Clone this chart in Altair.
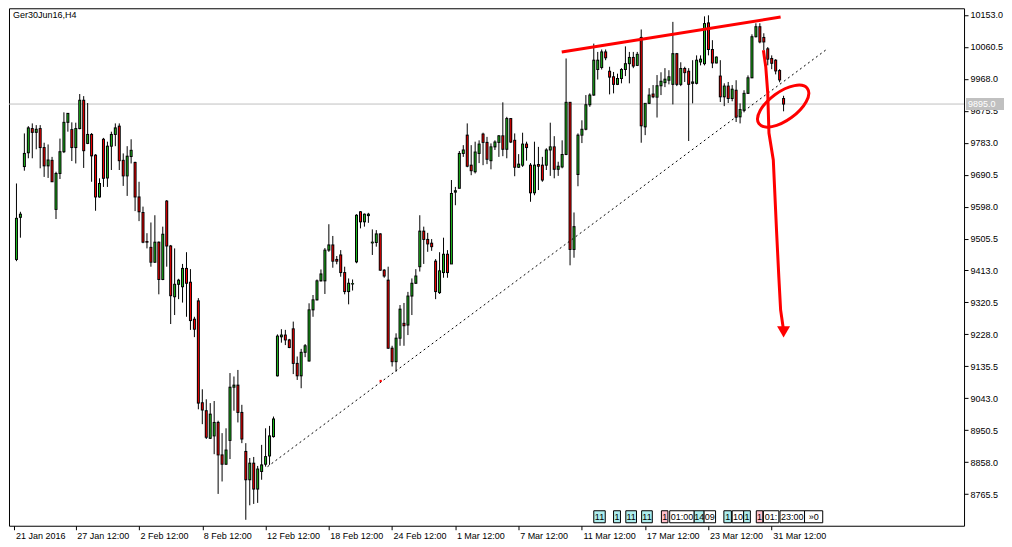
import altair as alt
import pandas as pd

# ---------------- candle data (H4 bars) ----------------
OPEN = [
    9445, 9567, 9714, 9754, 9824, 9813, 9824, 9769, 9716, 9732,
    9590, 9694, 9757, 9842, 9821, 9769, 9824, 9906, 9781, 9807,
    9747, 9626, 9793, 9681, 9773, 9807, 9831, 9732, 9687, 9743,
    9726, 9626, 9581, 9497, 9480, 9437, 9495, 9387, 9614, 9484,
    9337, 9373, 9366, 9419, 9379, 9272, 9325, 9030, 9007, 8927,
    8934, 8973, 8879, 8852, 8921, 9075, 9081, 9002, 8889, 8807,
    8855, 8780, 8831, 8852, 8876, 8932, 9108, 9221, 9226, 9212,
    9244, 9144, 9108, 9176, 9151, 9299, 9328, 9383, 9383, 9472,
    9487, 9445, 9458, 9407, 9352, 9374, 9438, 9583, 9554, 9572,
    9493, 9494, 9519, 9414, 9385, 9188, 9149, 9217, 9260, 9255,
    9339, 9376, 9424, 9527, 9503, 9492, 9440, 9349, 9407, 9460,
    9432, 9640, 9651, 9752, 9805, 9718, 9699, 9752, 9808, 9784,
    9731, 9771, 9784, 9803, 9764, 9853, 9790, 9712, 9718, 9779,
    9718, 9638, 9720, 9718, 9718, 9762, 9771, 9706, 9713, 9749,
    9900, 9474, 9691, 9805, 9822, 9893, 9921, 9995, 10001, 10046,
    9990, 9974, 9952, 9969, 9995, 10012, 10030, 10007, 10088, 9829,
    9897, 9924, 9915, 9948, 9957, 9964, 9952, 10041, 9952, 9998,
    9990, 9955, 9955, 10017, 10012, 10130, 10053, 10014, 9976, 9916,
    9947, 9911, 9935, 9858, 9877, 9926, 9971, 10090, 10119, 10088,
    10055, 10027, 10022, 9992, 9911,
]
HIGH = [
    9665, 9583, 9810, 9831, 9839, 9834, 9834, 9783, 9778, 9742,
    9699, 9795, 9871, 9869, 9842, 9841, 9924, 9918, 9898, 9811,
    9750, 9680, 9797, 9786, 9815, 9839, 9839, 9752, 9773, 9793,
    9728, 9670, 9598, 9521, 9552, 9573, 9497, 9540, 9617, 9487,
    9477, 9389, 9432, 9466, 9417, 9279, 9333, 9069, 9040, 9029,
    9035, 8978, 8942, 8956, 9116, 9106, 9125, 9024, 8913, 8870,
    8873, 8847, 8908, 8956, 8963, 8990, 9228, 9243, 9241, 9215,
    9265, 9164, 9186, 9200, 9318, 9342, 9387, 9416, 9478, 9547,
    9513, 9455, 9472, 9424, 9390, 9387, 9576, 9585, 9578, 9580,
    9532, 9530, 9521, 9417, 9424, 9195, 9231, 9313, 9319, 9351,
    9390, 9417, 9573, 9540, 9522, 9504, 9446, 9466, 9508, 9472,
    9675, 9655, 9759, 9776, 9839, 9776, 9786, 9790, 9812, 9800,
    9781, 9790, 9805, 9900, 9858, 9854, 9810, 9750, 9812, 9786,
    9724, 9786, 9771, 9742, 9767, 9841, 9802, 9728, 9790, 10027,
    9901, 9581, 9810, 9848, 9921, 9926, 10070, 10046, 10053, 10053,
    10003, 9988, 9983, 9999, 10062, 10046, 10046, 10046, 10111, 9898,
    9941, 9950, 9979, 9987, 9999, 9993, 10133, 10043, 10016, 10003,
    9999, 10022, 10036, 10036, 10149, 10152, 10080, 10033, 10022, 9955,
    9959, 9950, 9964, 9897, 9935, 9978, 10097, 10129, 10129, 10100,
    10060, 10036, 10025, 9996, 9919,
]
LOW = [
    9440, 9508, 9702, 9738, 9738, 9764, 9709, 9684, 9681, 9670,
    9562, 9678, 9753, 9815, 9730, 9723, 9822, 9710, 9779, 9670,
    9586, 9624, 9655, 9655, 9704, 9773, 9704, 9658, 9629, 9723,
    9585, 9556, 9492, 9477, 9424, 9435, 9344, 9385, 9424, 9258,
    9284, 9330, 9320, 9279, 9241, 9220, 9011, 8968, 8925, 8925,
    8881, 8766, 8802, 8850, 8867, 9007, 8973, 8913, 8691, 8733,
    8737, 8740, 8807, 8845, 8850, 8929, 9106, 9204, 9197, 9188,
    9113, 9096, 9072, 9162, 9149, 9279, 9326, 9381, 9345, 9467,
    9421, 9431, 9395, 9344, 9315, 9355, 9434, 9535, 9540, 9551,
    9458, 9482, 9412, 9392, 9186, 9135, 9120, 9195, 9195, 9226,
    9284, 9374, 9410, 9432, 9467, 9470, 9330, 9345, 9392, 9392,
    9432, 9602, 9651, 9742, 9712, 9689, 9694, 9724, 9718, 9721,
    9706, 9762, 9742, 9744, 9738, 9782, 9686, 9710, 9713, 9731,
    9612, 9631, 9646, 9670, 9704, 9687, 9680, 9687, 9709, 9747,
    9428, 9450, 9657, 9782, 9819, 9887, 9919, 9966, 9995, 10022,
    9923, 9926, 9950, 9955, 9976, 9955, 9999, 10005, 9783, 9805,
    9895, 9912, 9856, 9921, 9944, 9952, 9894, 9947, 9947, 9959,
    9788, 9897, 9952, 10007, 10007, 10036, 9999, 10013, 9901, 9889,
    9898, 9903, 9843, 9839, 9871, 9924, 9970, 10088, 10071, 10051,
    10007, 9996, 9981, 9958, 9874,
]
CLOSE = [
    9564, 9576, 9752, 9826, 9813, 9822, 9769, 9716, 9733, 9670,
    9694, 9757, 9842, 9868, 9769, 9824, 9906, 9760, 9807, 9745,
    9626, 9665, 9680, 9773, 9807, 9826, 9731, 9687, 9744, 9761,
    9626, 9583, 9495, 9495, 9437, 9495, 9387, 9518, 9484, 9340,
    9373, 9385, 9419, 9376, 9268, 9243, 9029, 9009, 8930, 8997,
    8973, 8879, 8852, 8893, 9075, 9081, 9002, 8925, 8807, 8855,
    8780, 8838, 8850, 8874, 8934, 8983, 9223, 9226, 9212, 9190,
    9144, 9108, 9176, 9195, 9299, 9328, 9383, 9403, 9472, 9487,
    9440, 9440, 9407, 9352, 9376, 9375, 9573, 9554, 9576, 9576,
    9495, 9519, 9414, 9397, 9188, 9149, 9217, 9301, 9253, 9339,
    9376, 9397, 9527, 9503, 9490, 9482, 9352, 9412, 9460, 9407,
    9636, 9644, 9752, 9762, 9715, 9702, 9756, 9779, 9784, 9735,
    9771, 9785, 9803, 9764, 9853, 9785, 9712, 9721, 9779, 9769,
    9638, 9718, 9715, 9675, 9762, 9771, 9706, 9715, 9749, 9900,
    9474, 9540, 9805, 9822, 9893, 9921, 10022, 10022, 10046, 10029,
    9973, 9952, 9969, 9995, 10012, 10030, 10005, 10039, 9832, 9897,
    9921, 9916, 9948, 9961, 9967, 9974, 10041, 9952, 9998, 9986,
    9952, 9959, 10022, 10025, 10128, 10053, 10014, 10031, 9916, 9947,
    9911, 9938, 9857, 9879, 9926, 9971, 10090, 10119, 10075, 10075,
    10025, 10013, 9991, 9965, 9895,
]

# ---------------- axes ----------------
X_TICK_IDX = [-0.5, 15, 31, 47, 63, 79, 95, 111, 127, 143, 159, 175, 191]
X_TICK_LABELS = ["21 Jan 2016", "27 Jan 12:00", "2 Feb 12:00", "8 Feb 12:00",
                 "12 Feb 12:00", "18 Feb 12:00", "24 Feb 12:00", "1 Mar 12:00",
                 "7 Mar 12:00", "11 Mar 12:00", "17 Mar 12:00", "23 Mar 12:00",
                 "31 Mar 12:00"]
Y_TICKS = [10153.0, 10060.5, 9968.0, 9875.5, 9783.0, 9690.5, 9598.0, 9505.5,
           9413.0, 9320.5, 9228.0, 9135.5, 9043.0, 8950.5, 8858.0, 8765.5]
X_DOMAIN = [-0.625, 238.375]
Y_DOMAIN = [8673.8, 10172.4]
CURRENT_PRICE = 9895.0
SYMBOL_TITLE = "Ger30Jun16,H4"

# ---------------- drawn objects ----------------
RESIST_IDX = [137.9, 193.25]
RESIST_PRICE = [10046, 10147]
SUPPORT_IDX = [63.5, 205.2]
SUPPORT_PRICE = [8845, 10056]
ANCHOR_IDX = [92.1]
ANCHOR_PRICE = [9093]
ARROW_IDX = [188.9, 189.5, 190.0, 190.3, 191.4, 192.25, 192.8, 193.25, 193.9]
ARROW_PRICE = [10051, 10002, 9926, 9811, 9733, 9521, 9394, 9299, 9247]
ARROW_HEAD_IDX = [194.0]
ARROW_HEAD_PRICE = [9235]
ELLIPSE_IDX = [193.9]
ELLIPSE_PRICE = [9889]

# calendar event flags along the bottom
EVENT_START = [146.0, 151.0, 154.1, 158.1, 163.1, 165.2, 171.4, 173.9, 178.9,
               181.0, 183.9, 187.1, 188.9, 193.1, 199.3]
EVENT_END = [148.9, 152.75, 156.8, 160.8, 164.75, 171.4, 173.9, 176.8, 180.8,
             183.9, 185.6, 188.75, 192.8, 199.3, 203.9]
EVENT_TEXT = ["11", "1", "11", "11", "1", "01:00", "14", "09", "1", "10", "1",
              "1", "01:", "23:00", "»0"]
EVENT_KIND = ["cyan", "cyan", "cyan", "cyan", "pink", "white", "cyan", "white",
              "cyan", "white", "cyan", "pink", "white", "white", "white"]

GREEN = "#1ebc1e"
RED = "#ff0000"
FONT = "Liberation Sans"
W, H = 956, 518

# ---------------- tables ----------------
candles = pd.DataFrame({"k": list(range(len(OPEN))), "open": OPEN, "high": HIGH,
                        "low": LOW, "close": CLOSE})
candles["dir"] = ["up" if c >= o else "down" for o, c in zip(OPEN, CLOSE)]
ups = candles[candles["dir"] == "up"]
downs = candles[candles["dir"] == "down"]

resist = pd.DataFrame({"k": RESIST_IDX, "price": RESIST_PRICE})
support = pd.DataFrame({"k": SUPPORT_IDX, "price": SUPPORT_PRICE})
anchor = pd.DataFrame({"k": ANCHOR_IDX, "price": ANCHOR_PRICE})
arrow = pd.DataFrame({"k": ARROW_IDX, "price": ARROW_PRICE,
                      "o": list(range(len(ARROW_IDX)))})
head = pd.DataFrame({"k": ARROW_HEAD_IDX, "price": ARROW_HEAD_PRICE})
ellipse = pd.DataFrame({"k": ELLIPSE_IDX, "price": ELLIPSE_PRICE})
events = pd.DataFrame({"k": EVENT_START, "k2": EVENT_END, "txt": EVENT_TEXT,
                       "kind": EVENT_KIND})
events["mid"] = (events["k"] + events["k2"]) / 2
cur = pd.DataFrame({"price": [CURRENT_PRICE], "label": [f"{CURRENT_PRICE:.1f}"]})
ttl = pd.DataFrame({"t": [SYMBOL_TITLE]})

label_expr = " : ".join(f"datum.value == {v} ? '{t}'"
                        for v, t in zip(X_TICK_IDX, X_TICK_LABELS)) + " : ''"

xscale = alt.Scale(domain=X_DOMAIN, nice=False, zero=False)
yscale = alt.Scale(domain=Y_DOMAIN, nice=False, zero=False)
xaxis = alt.Axis(values=X_TICK_IDX, labelExpr=label_expr, orient="bottom",
                 labelAlign="left", labelBaseline="top", labelPadding=2,
                 tickSize=4, tickColor="black", domain=False, grid=False,
                 labelOverlap=False, labelFlush=False, labelBound=False,
                 labelFont=FONT, labelFontSize=9, labelColor="black",
                 labelOffset=1)
yaxis = alt.Axis(values=Y_TICKS, format=".1f", orient="right", tickSize=4,
                 tickColor="black", domain=False, grid=False, labelPadding=2,
                 labelOverlap=False, labelFlush=False, labelFont=FONT,
                 labelFontSize=9, labelColor="black", labelBaseline="middle")


def X(field="k"):
    return alt.X(f"{field}:Q", scale=xscale, axis=xaxis, title=None)


def Y(field="price"):
    return alt.Y(f"{field}:Q", scale=yscale, axis=yaxis, title=None)


price_line = alt.Chart(cur).mark_rule(color="#c0c0c0", strokeWidth=1).encode(
    y=Y("price"))

support_line = alt.Chart(support).mark_line(
    color="black", strokeWidth=1, strokeDash=[2, 3]).encode(x=X(), y=Y())

anchor_pt = alt.Chart(anchor).mark_square(size=5, color="red", opacity=1).encode(
    x=X(), y=Y())

wicks = alt.Chart(candles).mark_rule(color="black", strokeWidth=1).encode(
    x=X(), y=Y("low"), y2="high:Q")

# body outline: black 3px rect, a little taller so that flat bars still show
up_frame = alt.Chart(ups).mark_bar(size=3, color="black", yOffset=0.5,
                                   y2Offset=-0.5).encode(
    x=X(), y=Y("open"), y2="close:Q")
down_frame = alt.Chart(downs).mark_bar(size=3, color="black", yOffset=-0.5,
                                       y2Offset=0.5).encode(
    x=X(), y=Y("open"), y2="close:Q")
# body fill: 1px coloured core inside the outline
up_fill = alt.Chart(ups).mark_bar(size=1, color=GREEN, yOffset=-0.5,
                                  y2Offset=0.5).encode(
    x=X(), y=Y("open"), y2="close:Q")
down_fill = alt.Chart(downs).mark_bar(size=1, color=RED, yOffset=0.5,
                                      y2Offset=-0.5).encode(
    x=X(), y=Y("open"), y2="close:Q")

resist_line = alt.Chart(resist).mark_line(color=RED, strokeWidth=3).encode(
    x=X(), y=Y())

ellipse_mark = alt.Chart(ellipse).mark_point(
    shape="M-1,0 A1,0.47 0 1,0 1,0 A1,0.47 0 1,0 -1,0 Z",
    size=3600, filled=False, stroke=RED, strokeWidth=3, angle=324, opacity=1
).encode(x=X(), y=Y())

arrow_line = alt.Chart(arrow).mark_line(color=RED, strokeWidth=3).encode(
    x=X(), y=Y(), order="o:Q")

arrow_head = alt.Chart(head).mark_point(
    shape="triangle-down", size=169, filled=True, color=RED, opacity=1,
    strokeWidth=0).encode(x=X(), y=Y())

event_boxes = alt.Chart(events).mark_rect(stroke="black", strokeWidth=1).encode(
    x=X("k"), x2="k2:Q", y=alt.value(H - 15), y2=alt.value(H - 3),
    fill=alt.Fill("kind:N", scale=alt.Scale(domain=["cyan", "pink", "white"],
                                            range=["#aeeeee", "#ffc0cb", "#ffffff"]),
                  legend=None))

event_text = alt.Chart(events).mark_text(
    font=FONT, fontSize=9, color="black", baseline="middle", align="center"
).encode(x=X("mid"), y=alt.value(H - 8.5), text="txt:N")

cur_box = alt.Chart(cur).mark_rect(
    color="#c0c0c0", yOffset=-6, y2Offset=6).encode(
    x=alt.value(W + 2), x2=alt.value(W + 40), y=Y("price"), y2="price:Q")

cur_text = alt.Chart(cur).mark_text(
    font=FONT, fontSize=9, color="white", align="left", baseline="middle"
).encode(x=alt.value(W + 4), y=Y("price"), text="label:N")

title_text = alt.Chart(ttl).mark_text(
    font=FONT, fontSize=9, color="black", align="left", baseline="top"
).encode(x=alt.value(4), y=alt.value(3), text="t:N")

chart = alt.layer(
    price_line, support_line, anchor_pt, wicks, up_frame, down_frame,
    up_fill, down_fill, resist_line, ellipse_mark, arrow_line, arrow_head,
    event_boxes, event_text, cur_box, cur_text, title_text
).properties(
    width=W, height=H, padding=0, background="white"
).configure_view(
    stroke="black", strokeWidth=1
)

chart.save("out.html", embed_options={"renderer": "svg", "actions": False})
